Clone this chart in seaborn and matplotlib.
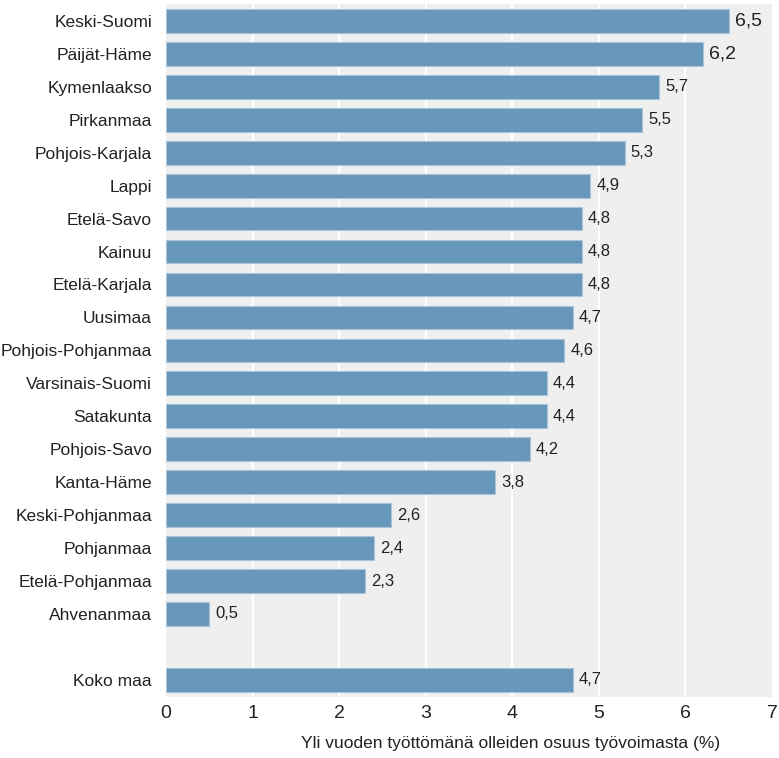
import pandas as pd
import numpy as np
import matplotlib
matplotlib.use("Agg")
import matplotlib.pyplot as plt
import seaborn as sns

# Data
regions = ["Keski-Suomi", "Päijät-Häme", "Kymenlaakso", "Pirkanmaa", "Pohjois-Karjala",
           "Lappi", "Etelä-Savo", "Kainuu", "Etelä-Karjala", "Uusimaa",
           "Pohjois-Pohjanmaa", "Varsinais-Suomi", "Satakunta", "Pohjois-Savo",
           "Kanta-Häme", "Keski-Pohjanmaa", "Pohjanmaa", "Etelä-Pohjanmaa",
           "Ahvenanmaa", " ", "Koko maa"]
values = [6.5, 6.2, 5.7, 5.5, 5.3, 4.9, 4.8, 4.8, 4.8, 4.7,
          4.6, 4.4, 4.4, 4.2, 3.8, 2.6, 2.4, 2.3, 0.5, np.nan, 4.7]
x_ticks = [0, 1, 2, 3, 4, 5, 6, 7]
x_label = "Yli vuoden työttömänä olleiden osuus työvoimasta (%)"

df = pd.DataFrame({"region": regions, "value": values})

sns.set_theme(style="white")
plt.rcParams["font.family"] = ["Liberation Sans", "DejaVu Sans"]

fig = plt.figure(figsize=(7.79, 7.58), dpi=100)
ax = fig.add_axes([0.213, 0.0805, 0.778, 0.9145])
ax.set_facecolor("#efefef")

sns.barplot(data=df.dropna(), x="value", y="region", order=regions, orient="h",
            color="#6797bb", saturation=1, width=0.72, edgecolor="#a9c4d9",
            linewidth=0.8, ax=ax, zorder=3)

# white vertical gridlines
for t in x_ticks[1:-1]:
    ax.axvline(t, color="white", lw=1.6, zorder=1)

ax.set_xlim(0, 7)
ax.set_ylim(20.52, -0.52)
ax.set_xticks(x_ticks)
ax.set_xticklabels([str(t) for t in x_ticks], fontsize=14, color="#222222")
ax.tick_params(axis="both", length=0)
ax.tick_params(axis="x", pad=6)
ax.tick_params(axis="y", pad=10)
ax.set_yticks(range(len(regions)))
ax.set_yticklabels(regions, fontsize=12.5, color="#222222")
ax.set_xlabel(x_label, fontsize=12.5, color="#222222")
ax.xaxis.set_label_coords(0.568, -0.056)
ax.set_ylabel("")
for s in ax.spines.values():
    s.set_visible(False)

# value labels
for i, v in enumerate(values):
    if np.isnan(v):
        continue
    fs = 14 if i < 2 else 12
    ax.text(v + 0.07, i, f"{v:.1f}".replace(".", ","), va="center", ha="left",
            fontsize=fs, color="#222222", zorder=4, clip_on=False)

fig.savefig("out.png", dpi=100)
